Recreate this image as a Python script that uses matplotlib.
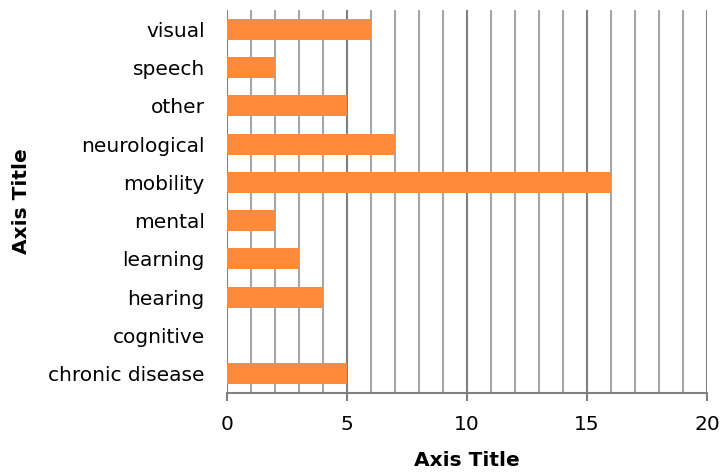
import matplotlib.pyplot as plt
from matplotlib.ticker import MultipleLocator

categories = ["chronic disease", "cognitive", "hearing", "learning", "mental",
              "mobility", "neurological", "other", "speech", "visual"]
values = [5, 0, 4, 3, 2, 16, 7, 5, 2, 6]

plt.rcParams['font.family'] = ['DejaVu Sans']

fig = plt.figure(figsize=(7.25, 4.72), dpi=100)
ax = fig.add_axes([227/725, 1 - 393/472, 480/725, 383/472])

ax.barh(range(len(categories)), values, height=0.55, color='#FF8A3A', zorder=3)

ax.set_xlim(0, 20)
ax.set_ylim(-0.5, len(categories) - 0.5)
ax.xaxis.set_major_locator(MultipleLocator(5))
ax.xaxis.set_minor_locator(MultipleLocator(1))
ax.grid(True, axis='x', which='minor', color='#A6A6A6', linewidth=1.5, zorder=0)
ax.grid(True, axis='x', which='major', color='#808080', linewidth=1.5, zorder=1)

ax.set_yticks(range(len(categories)))
ax.set_yticklabels(categories, fontsize=14.5)
ax.tick_params(axis='y', length=0, pad=16)
ax.tick_params(axis='x', which='major', length=6, width=1.5, color='#808080', labelsize=14.5, pad=10)
ax.tick_params(axis='x', which='minor', length=0)

for side in ['top', 'right', 'left']:
    ax.spines[side].set_visible(False)
ax.spines['bottom'].set_color('#808080')
ax.spines['bottom'].set_linewidth(1.5)

ax.set_xlabel("Axis Title", fontsize=14.5, fontweight='bold')
ax.set_ylabel("Axis Title", fontsize=14.5, fontweight='bold')
ax.xaxis.set_label_coords(0.5, -(460 - 393) / 383, transform=ax.transAxes)
ax.yaxis.set_label_coords(-(227 - 22) / 480, 0.5, transform=ax.transAxes)
ax.xaxis.label.set_va('center')
ax.yaxis.label.set_va('center')

plt.savefig("out.png", dpi=100)
